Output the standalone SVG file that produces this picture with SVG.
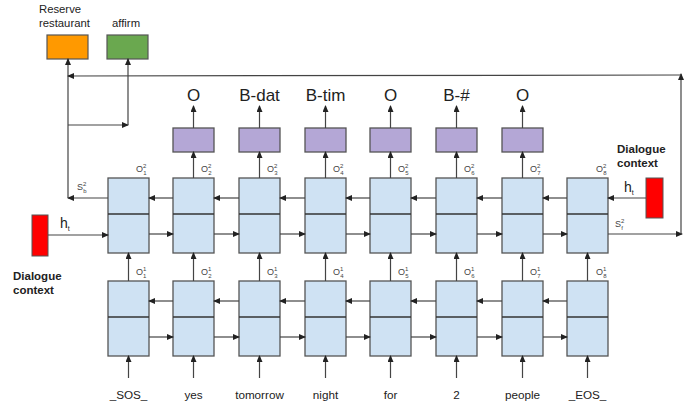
<svg xmlns="http://www.w3.org/2000/svg" width="697" height="417" viewBox="0 0 697 417">
<defs>
<marker id="ah" markerWidth="7" markerHeight="6" refX="6" refY="3" orient="auto" markerUnits="userSpaceOnUse">
<path d="M0,0 L7,3 L0,6 z" fill="#222"/>
</marker>
<style>
.cell{fill:#cfe2f3;stroke:#555;stroke-width:1.3}
.div{stroke:#333;stroke-width:1.3}
.pur{fill:#b4a7d6;stroke:#555;stroke-width:1.3}
.ln{stroke:#444;stroke-width:1.2;fill:none;marker-end:url(#ah)}
.t{font-family:"Liberation Sans",Arial,sans-serif;fill:#222}
.w{font-size:11.7px;text-anchor:middle}
.o{font-size:17px;text-anchor:middle}
.s{font-size:9px;fill:#444}
.ss{font-size:6px}
.b{font-size:11.5px;font-weight:bold}
</style>
</defs>
<rect width="697" height="417" fill="#fff"/>

<g id="intent-reserve">
<rect x="47" y="35" width="41" height="24" fill="#ff9900" stroke="#555" stroke-width="1.2"/>
<text class="t" x="39" y="13" font-size="11.3">Reserve</text>
<text class="t" x="39" y="27" font-size="11.3">restaurant</text>
</g>
<g id="intent-affirm">
<rect x="107" y="35" width="41" height="24" fill="#6aa84f" stroke="#555" stroke-width="1.2"/>
<text class="t" x="112" y="27" font-size="11.3">affirm</text>
</g>

<g id="ctx-left">
<rect x="32" y="215" width="16" height="41" fill="#ff0000" stroke="#555" stroke-width="1"/>
<text class="t" x="60" y="228" font-size="14">h<tspan font-size="7" dy="3">t</tspan></text>
<text class="t b" x="13" y="280">Dialogue</text>
<text class="t b" x="13" y="294">context</text>
</g>
<g id="ctx-right">
<rect x="646" y="178" width="17" height="40" fill="#ff0000" stroke="#555" stroke-width="1"/>
<text class="t" x="624" y="192" font-size="14">h<tspan font-size="7" dy="3">t</tspan></text>
<text class="t b" x="617" y="153">Dialogue</text>
<text class="t b" x="617" y="167">context</text>
</g>

<g id="upper-cells">
<g id="u1"><rect class="cell" x="108" y="178" width="41" height="75"/><line class="div" x1="108" y1="214" x2="149" y2="214"/></g>
<g id="u2"><rect class="cell" x="173" y="178" width="41" height="75"/><line class="div" x1="173" y1="214" x2="214" y2="214"/></g>
<g id="u3"><rect class="cell" x="239" y="178" width="41" height="75"/><line class="div" x1="239" y1="214" x2="280" y2="214"/></g>
<g id="u4"><rect class="cell" x="305" y="178" width="41" height="75"/><line class="div" x1="305" y1="214" x2="346" y2="214"/></g>
<g id="u5"><rect class="cell" x="370" y="178" width="41" height="75"/><line class="div" x1="370" y1="214" x2="411" y2="214"/></g>
<g id="u6"><rect class="cell" x="436" y="178" width="41" height="75"/><line class="div" x1="436" y1="214" x2="477" y2="214"/></g>
<g id="u7"><rect class="cell" x="502" y="178" width="41" height="75"/><line class="div" x1="502" y1="214" x2="543" y2="214"/></g>
<g id="u8"><rect class="cell" x="567" y="178" width="41" height="75"/><line class="div" x1="567" y1="214" x2="608" y2="214"/></g>
</g>

<g id="lower-cells">
<g id="l1"><rect class="cell" x="108" y="281" width="41" height="75"/><line class="div" x1="108" y1="317" x2="149" y2="317"/></g>
<g id="l2"><rect class="cell" x="173" y="281" width="41" height="75"/><line class="div" x1="173" y1="317" x2="214" y2="317"/></g>
<g id="l3"><rect class="cell" x="239" y="281" width="41" height="75"/><line class="div" x1="239" y1="317" x2="280" y2="317"/></g>
<g id="l4"><rect class="cell" x="305" y="281" width="41" height="75"/><line class="div" x1="305" y1="317" x2="346" y2="317"/></g>
<g id="l5"><rect class="cell" x="370" y="281" width="41" height="75"/><line class="div" x1="370" y1="317" x2="411" y2="317"/></g>
<g id="l6"><rect class="cell" x="436" y="281" width="41" height="75"/><line class="div" x1="436" y1="317" x2="477" y2="317"/></g>
<g id="l7"><rect class="cell" x="502" y="281" width="41" height="75"/><line class="div" x1="502" y1="317" x2="543" y2="317"/></g>
<g id="l8"><rect class="cell" x="567" y="281" width="41" height="75"/><line class="div" x1="567" y1="317" x2="608" y2="317"/></g>
</g>

<g id="outputs">
<g id="p2"><rect class="pur" x="173" y="128" width="41" height="24"/><text class="t o" x="193.5" y="101">O</text></g>
<g id="p3"><rect class="pur" x="239" y="128" width="41" height="24"/><text class="t o" x="259.5" y="101">B-dat</text></g>
<g id="p4"><rect class="pur" x="305" y="128" width="41" height="24"/><text class="t o" x="325.5" y="101">B-tim</text></g>
<g id="p5"><rect class="pur" x="370" y="128" width="41" height="24"/><text class="t o" x="390.5" y="101">O</text></g>
<g id="p6"><rect class="pur" x="436" y="128" width="41" height="24"/><text class="t o" x="456.5" y="101">B-#</text></g>
<g id="p7"><rect class="pur" x="502" y="128" width="41" height="24"/><text class="t o" x="522.5" y="101">O</text></g>
</g>

<g id="words">
<text class="t w" x="128.5" y="399">_SOS_</text>
<text class="t w" x="193.5" y="399">yes</text>
<text class="t w" x="259.5" y="399">tomorrow</text>
<text class="t w" x="325.5" y="399">night</text>
<text class="t w" x="390.5" y="399">for</text>
<text class="t w" x="456.5" y="399">2</text>
<text class="t w" x="522.5" y="399">people</text>
<text class="t w" x="587.5" y="399">_EOS_</text>
</g>

<g id="state-labels">
<text class="t s" x="136" y="172">O<tspan class="ss" dy="-4">2</tspan><tspan class="ss" dx="-3" dy="7">1</tspan></text>
<text class="t s" x="201" y="172">O<tspan class="ss" dy="-4">2</tspan><tspan class="ss" dx="-3" dy="7">2</tspan></text>
<text class="t s" x="267" y="172">O<tspan class="ss" dy="-4">2</tspan><tspan class="ss" dx="-3" dy="7">3</tspan></text>
<text class="t s" x="333" y="172">O<tspan class="ss" dy="-4">2</tspan><tspan class="ss" dx="-3" dy="7">4</tspan></text>
<text class="t s" x="398" y="172">O<tspan class="ss" dy="-4">2</tspan><tspan class="ss" dx="-3" dy="7">5</tspan></text>
<text class="t s" x="464" y="172">O<tspan class="ss" dy="-4">2</tspan><tspan class="ss" dx="-3" dy="7">6</tspan></text>
<text class="t s" x="530" y="172">O<tspan class="ss" dy="-4">2</tspan><tspan class="ss" dx="-3" dy="7">7</tspan></text>
<text class="t s" x="596" y="172">O<tspan class="ss" dy="-4">2</tspan><tspan class="ss" dx="-3" dy="7">8</tspan></text>
<text class="t s" x="136" y="275">O<tspan class="ss" dy="-4">1</tspan><tspan class="ss" dx="-3" dy="7">1</tspan></text>
<text class="t s" x="201" y="275">O<tspan class="ss" dy="-4">1</tspan><tspan class="ss" dx="-3" dy="7">2</tspan></text>
<text class="t s" x="267" y="275">O<tspan class="ss" dy="-4">1</tspan><tspan class="ss" dx="-3" dy="7">3</tspan></text>
<text class="t s" x="333" y="275">O<tspan class="ss" dy="-4">1</tspan><tspan class="ss" dx="-3" dy="7">4</tspan></text>
<text class="t s" x="398" y="275">O<tspan class="ss" dy="-4">1</tspan><tspan class="ss" dx="-3" dy="7">5</tspan></text>
<text class="t s" x="464" y="275">O<tspan class="ss" dy="-4">1</tspan><tspan class="ss" dx="-3" dy="7">6</tspan></text>
<text class="t s" x="530" y="275">O<tspan class="ss" dy="-4">1</tspan><tspan class="ss" dx="-3" dy="7">7</tspan></text>
<text class="t s" x="596" y="275">O<tspan class="ss" dy="-4">1</tspan><tspan class="ss" dx="-3" dy="7">8</tspan></text>
<text class="t s" x="77" y="190">S<tspan class="ss" dy="-4">2</tspan><tspan class="ss" dx="-3" dy="7">b</tspan></text>
<text class="t s" x="615" y="227">S<tspan class="ss" dy="-4">2</tspan><tspan class="ss" dx="-3" dy="7">f</tspan></text>
</g>

<g id="connectors">
<line class="ln" x1="128.5" y1="378" x2="128.5" y2="356"/>
<line class="ln" x1="193.5" y1="378" x2="193.5" y2="356"/>
<line class="ln" x1="259.5" y1="378" x2="259.5" y2="356"/>
<line class="ln" x1="325.5" y1="378" x2="325.5" y2="356"/>
<line class="ln" x1="390.5" y1="378" x2="390.5" y2="356"/>
<line class="ln" x1="456.5" y1="378" x2="456.5" y2="356"/>
<line class="ln" x1="522.5" y1="378" x2="522.5" y2="356"/>
<line class="ln" x1="587.5" y1="378" x2="587.5" y2="356"/>
<line class="ln" x1="128.5" y1="281" x2="128.5" y2="253"/>
<line class="ln" x1="193.5" y1="281" x2="193.5" y2="253"/>
<line class="ln" x1="259.5" y1="281" x2="259.5" y2="253"/>
<line class="ln" x1="325.5" y1="281" x2="325.5" y2="253"/>
<line class="ln" x1="390.5" y1="281" x2="390.5" y2="253"/>
<line class="ln" x1="456.5" y1="281" x2="456.5" y2="253"/>
<line class="ln" x1="522.5" y1="281" x2="522.5" y2="253"/>
<line class="ln" x1="587.5" y1="281" x2="587.5" y2="253"/>
<line class="ln" x1="193.5" y1="178" x2="193.5" y2="152"/>
<line class="ln" x1="259.5" y1="178" x2="259.5" y2="152"/>
<line class="ln" x1="325.5" y1="178" x2="325.5" y2="152"/>
<line class="ln" x1="390.5" y1="178" x2="390.5" y2="152"/>
<line class="ln" x1="456.5" y1="178" x2="456.5" y2="152"/>
<line class="ln" x1="522.5" y1="178" x2="522.5" y2="152"/>
<line class="ln" x1="193.5" y1="128" x2="193.5" y2="106"/>
<line class="ln" x1="259.5" y1="128" x2="259.5" y2="106"/>
<line class="ln" x1="325.5" y1="128" x2="325.5" y2="106"/>
<line class="ln" x1="390.5" y1="128" x2="390.5" y2="106"/>
<line class="ln" x1="456.5" y1="128" x2="456.5" y2="106"/>
<line class="ln" x1="522.5" y1="128" x2="522.5" y2="106"/>
<line class="ln" x1="173" y1="198" x2="149" y2="198"/>
<line class="ln" x1="239" y1="198" x2="214" y2="198"/>
<line class="ln" x1="305" y1="198" x2="280" y2="198"/>
<line class="ln" x1="370" y1="198" x2="346" y2="198"/>
<line class="ln" x1="436" y1="198" x2="411" y2="198"/>
<line class="ln" x1="502" y1="198" x2="477" y2="198"/>
<line class="ln" x1="567" y1="198" x2="543" y2="198"/>
<line class="ln" x1="149" y1="234" x2="173" y2="234"/>
<line class="ln" x1="214" y1="234" x2="239" y2="234"/>
<line class="ln" x1="280" y1="234" x2="305" y2="234"/>
<line class="ln" x1="346" y1="234" x2="370" y2="234"/>
<line class="ln" x1="411" y1="234" x2="436" y2="234"/>
<line class="ln" x1="477" y1="234" x2="502" y2="234"/>
<line class="ln" x1="543" y1="234" x2="567" y2="234"/>
<line class="ln" x1="173" y1="301" x2="149" y2="301"/>
<line class="ln" x1="239" y1="301" x2="214" y2="301"/>
<line class="ln" x1="305" y1="301" x2="280" y2="301"/>
<line class="ln" x1="370" y1="301" x2="346" y2="301"/>
<line class="ln" x1="436" y1="301" x2="411" y2="301"/>
<line class="ln" x1="502" y1="301" x2="477" y2="301"/>
<line class="ln" x1="567" y1="301" x2="543" y2="301"/>
<line class="ln" x1="149" y1="337" x2="173" y2="337"/>
<line class="ln" x1="214" y1="337" x2="239" y2="337"/>
<line class="ln" x1="280" y1="337" x2="305" y2="337"/>
<line class="ln" x1="346" y1="337" x2="370" y2="337"/>
<line class="ln" x1="411" y1="337" x2="436" y2="337"/>
<line class="ln" x1="477" y1="337" x2="502" y2="337"/>
<line class="ln" x1="543" y1="337" x2="567" y2="337"/>
<line class="ln" x1="48" y1="235" x2="108" y2="235"/>
<line class="ln" x1="646" y1="198" x2="608" y2="198"/>
<line class="ln" x1="108" y1="198" x2="68" y2="198"/>
<line class="ln" x1="68" y1="198" x2="68" y2="59"/>
<line class="ln" x1="68" y1="125" x2="128" y2="125"/>
<line class="ln" x1="128" y1="125" x2="128" y2="59"/>
<line class="ln" x1="608" y1="234" x2="682" y2="234"/>
<line class="ln" x1="681" y1="234" x2="681" y2="74"/>
<line class="ln" x1="681" y1="75" x2="68" y2="76"/>
</g>
</svg>
